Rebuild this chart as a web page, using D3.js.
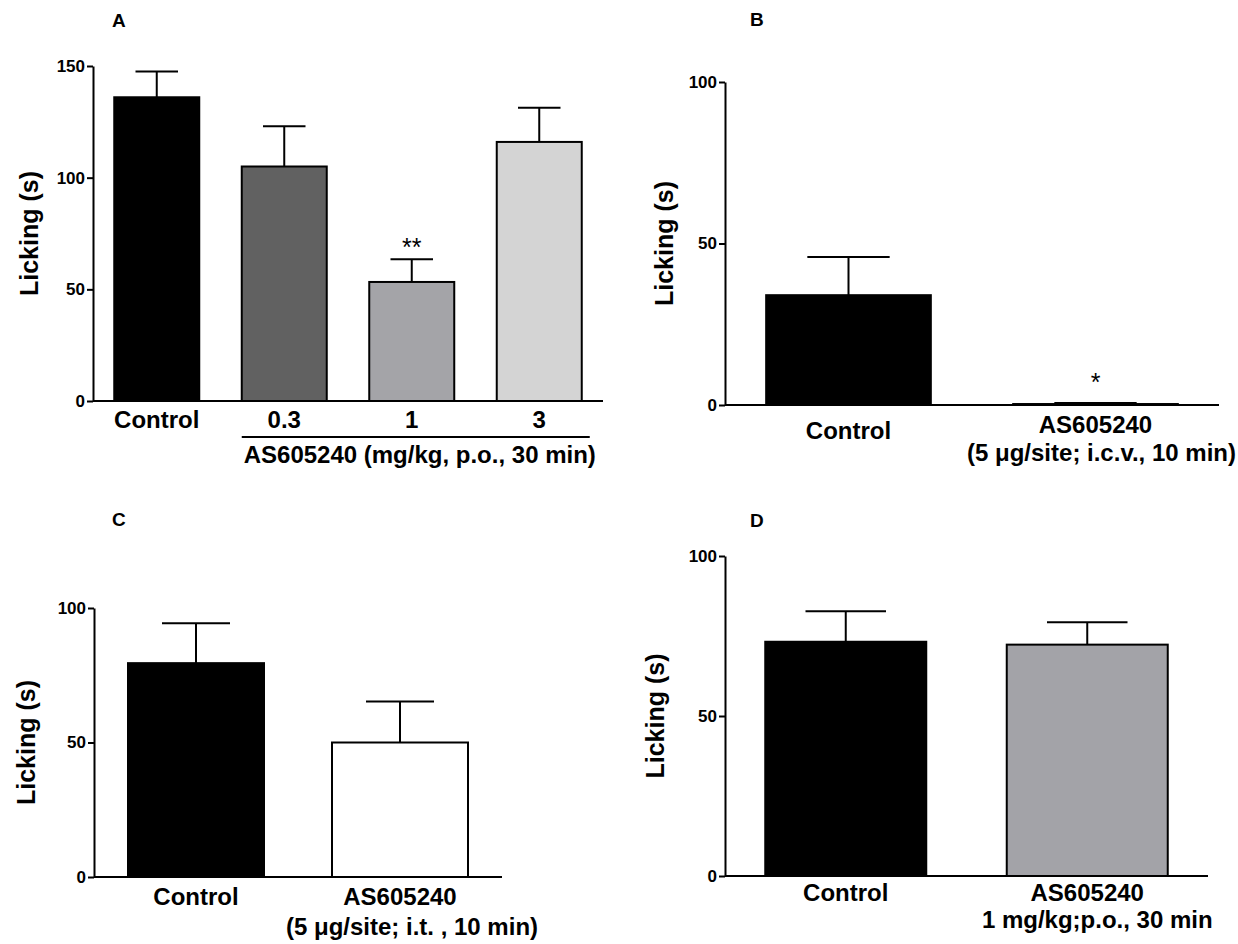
<!DOCTYPE html>
<html>
<head>
<meta charset="utf-8">
<script src="https://cdn.jsdelivr.net/npm/d3@7"></script>
<style>
  body { margin: 0; background: #fff; }
  text { font-family: "Liberation Sans", Arial, sans-serif; }
</style>
</head>
<body>
<div id="chart"></div>
<script>
// panel A
const catsA = ['Control', '0.3', '1', '3'];
const meanA = [136, 105, 53.3, 116];
const semA = [11.5, 18, 10.2, 15.3];
const ticksA = [0, 50, 100, 150];
const fillA = ['#000000', '#616161', '#a4a4a8', '#d4d4d4'];

// panel B
const catsB = ['Control', 'AS605240'];
const meanB = [34, 0.3];
const semB = [11.8, 0.3];
const subB = ['', '(5 \u03bcg/site; i.c.v., 10 min)'];

// panel C
const catsC = ['Control', 'AS605240'];
const meanC = [79.5, 50];
const semC = [14.8, 15.2];
const subC = ['', '(5 \u03bcg/site; i.t. , 10 min)'];

// panel D
const catsD = ['Control', 'AS605240'];
const meanD = [73.2, 72.3];
const semD = [9.5, 7];
const subD = ['', '1 mg/kg;p.o., 30 min'];

const ticks100 = [0, 50, 100];

const svg = d3.select('#chart')
    .append('svg')
    .attr('width', 1238)
    .attr('height', 944);

function panel (opt) {
    const g = svg.append('g');
    const data = opt.cats.map((c, i) => ({ name: c, value: opt.mean[i], err: opt.sem[i], fill: opt.fill[i], sub: opt.sub ? opt.sub[i] : '', i: i }));

    const y = d3.scaleLinear()
        .domain([0, opt.max])
        .range([opt.y0, opt.yTop]);
    const x = d3.scaleBand()
        .domain(opt.cats)
        .range([opt.x0, opt.x1])
        .paddingInner(1 / 3)
        .paddingOuter(1 / 6);

    // bars
    g.selectAll('.bar')
        .data(data)
        .enter()
        .append('rect')
        .attr('x', d => x(d.name))
        .attr('y', d => y(d.value))
        .attr('width', x.bandwidth())
        .attr('height', d => y(0) - y(d.value))
        .attr('fill', d => d.fill)
        .attr('stroke', '#000')
        .attr('stroke-width', 2);

    // error bars (upper only)
    const eb = g.selectAll('.err')
        .data(data)
        .enter()
        .append('g')
        .attr('stroke', '#000')
        .attr('stroke-width', 2);
    eb.append('line')
        .attr('x1', d => x(d.name) + x.bandwidth() / 2)
        .attr('x2', d => x(d.name) + x.bandwidth() / 2)
        .attr('y1', d => y(d.value))
        .attr('y2', d => y(d.value + d.err));
    eb.append('line')
        .attr('x1', d => x(d.name) + x.bandwidth() / 4)
        .attr('x2', d => x(d.name) + x.bandwidth() * 3 / 4)
        .attr('y1', d => y(d.value + d.err))
        .attr('y2', d => y(d.value + d.err));

    // y axis
    const yAxis = d3.axisLeft(y)
        .tickValues(opt.ticks)
        .tickSize(6)
        .tickSizeOuter(0)
        .tickPadding(2);
    const ya = g.append('g')
        .attr('transform', `translate(${opt.x0}, 0)`)
        .call(yAxis);
    ya.select('.domain').attr('stroke-width', 2);
    ya.selectAll('.tick line').attr('stroke-width', 2);
    ya.selectAll('.tick text')
        .attr('font-size', 17)
        .attr('font-weight', 'bold')
        .attr('fill', '#000')
        .attr('font-family', '"Liberation Sans", Arial, sans-serif');

    // x axis line
    g.append('line')
        .attr('x1', opt.x0)
        .attr('x2', opt.x1)
        .attr('y1', y(0))
        .attr('y2', y(0))
        .attr('stroke', '#000')
        .attr('stroke-width', 2);

    // category labels
    g.selectAll('.cat')
        .data(data)
        .enter()
        .append('text')
        .attr('x', d => x(d.name) + x.bandwidth() / 2)
        .attr('y', d => Array.isArray(opt.labelY) ? opt.labelY[d.i] : opt.labelY)
        .attr('text-anchor', 'middle')
        .attr('font-size', 24)
        .attr('font-weight', 'bold')
        .text(d => d.name);
    g.selectAll('.sub')
        .data(data.filter(d => d.sub))
        .enter()
        .append('text')
        .attr('x', d => x(d.name) + x.bandwidth() / 2 + (opt.subDx || 0))
        .attr('y', opt.subY)
        .attr('text-anchor', 'middle')
        .attr('font-size', 24)
        .attr('font-weight', 'bold')
        .text(d => d.sub);

    // y title
    g.append('text')
        .attr('transform', `translate(${opt.titleX}, ${(opt.y0 + opt.yTop) / 2}) rotate(-90)`)
        .attr('text-anchor', 'middle')
        .attr('font-size', 25)
        .attr('font-weight', 'bold')
        .text('Licking (s)');

    // panel letter
    g.append('text')
        .attr('x', opt.letterX)
        .attr('y', opt.letterY)
        .attr('font-size', 19)
        .attr('font-weight', 'bold')
        .text(opt.letter);

    // significance marks
    (opt.stars || []).forEach(s => {
        const k = opt.cats.indexOf(s.name);
        g.append('text')
            .attr('x', x(s.name) + x.bandwidth() / 2)
            .attr('y', y(opt.mean[k] + opt.sem[k]) - s.gap)
            .attr('text-anchor', 'middle')
            .attr('font-size', 25)
            .text(s.text);
    });

    return { g, x, y };
}

const pA = panel({
    cats: catsA, mean: meanA, sem: semA, fill: fillA, ticks: ticksA, max: 150,
    x0: 93, x1: 603, y0: 401, yTop: 66,
    labelY: 428, titleX: 38, letter: 'A', letterX: 112, letterY: 27,
    stars: [{ name: '1', text: '**', gap: 3 }]
});
// bracket under dose groups
const brX1 = pA.x('0.3');
const brX2 = pA.x('3') + pA.x.bandwidth() + 8;
pA.g.append('line')
    .attr('x1', brX1)
    .attr('x2', brX2)
    .attr('y1', 437)
    .attr('y2', 437)
    .attr('stroke', '#000')
    .attr('stroke-width', 2);
pA.g.append('text')
    .attr('x', (brX1 + brX2) / 2 + 4)
    .attr('y', 463)
    .attr('text-anchor', 'middle')
    .attr('font-size', 24)
    .attr('font-weight', 'bold')
    .text('AS605240 (mg/kg, p.o., 30 min)');

panel({
    cats: catsB, mean: meanB, sem: semB, fill: ['#000000', '#000000'], sub: subB, ticks: ticks100, max: 100,
    x0: 725, x1: 1219, y0: 405, yTop: 82,
    labelY: [439, 433], subY: 461, subDx: 6, titleX: 673, letter: 'B', letterX: 750, letterY: 26,
    stars: [{ name: 'AS605240', text: '*', gap: 12 }]
});

panel({
    cats: catsC, mean: meanC, sem: semC, fill: ['#000000', '#ffffff'], sub: subC, ticks: ticks100, max: 100,
    x0: 94, x1: 502, y0: 877, yTop: 608,
    labelY: 905, subY: 935, subDx: 12, titleX: 35, letter: 'C', letterX: 112, letterY: 526
});

panel({
    cats: catsD, mean: meanD, sem: semD, fill: ['#000000', '#a3a3a8'], sub: subD, ticks: ticks100, max: 100,
    x0: 725, x1: 1208, y0: 876, yTop: 556,
    labelY: 901, subY: 928, subDx: 10, titleX: 664, letter: 'D', letterX: 750, letterY: 527
});
</script>
</body>
</html>
